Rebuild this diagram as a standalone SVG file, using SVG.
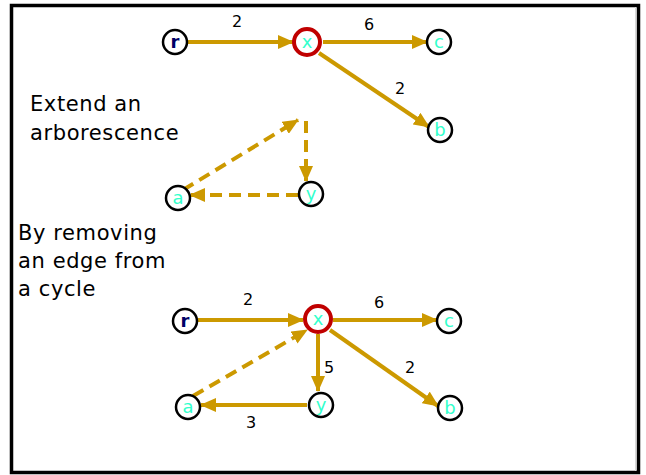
<svg xmlns="http://www.w3.org/2000/svg" width="646" height="475" viewBox="0 0 646 475">
  <style>
    .frame { fill: #ffffff; stroke: #000000; stroke-width: 3.5; }
    .node { fill: #ffffff; stroke: #000000; stroke-width: 2.5; }
    .node-hl { fill: #ffffff; stroke: #c00000; stroke-width: 4; }
    .lbl { font-family: "DejaVu Sans", sans-serif; font-size: 18px; fill: #33ffcc; text-anchor: middle; }
    .root { fill: #000066; font-weight: bold; }
    .edge { stroke: #cc9900; stroke-width: 4; fill: none; marker-end: url(#arrow); }
    .dash { stroke-dasharray: 12 7; }
    .w { font-family: "DejaVu Sans", sans-serif; font-size: 16px; fill: #000000; text-anchor: middle; }
    .note { font-family: "DejaVu Sans", sans-serif; font-size: 21px; letter-spacing: 0.6px; fill: #000000; }
  </style>
  <defs>
    <marker id="arrow" markerUnits="userSpaceOnUse" markerWidth="16" markerHeight="14" refX="15" refY="7" orient="auto">
      <path d="M0,0 L16,7 L0,14 Z" fill="#cc9900"/>
    </marker>
  </defs>

  <rect class="frame" x="11.5" y="5.5" width="627" height="467"/>
  <line x1="635.5" y1="7" x2="635.5" y2="471" stroke="#d8d8d8" stroke-width="1"/>

  <text class="note" x="30" y="111">Extend an</text>
  <text class="note" x="30" y="140">arborescence</text>
  <text class="note" x="18" y="240">By removing</text>
  <text class="note" x="18" y="268">an edge from</text>
  <text class="note" x="18" y="296">a cycle</text>

  <g id="connectors">
    <!-- upper tree -->
    <line class="edge" x1="188" y1="42" x2="293" y2="42"/>
    <line class="edge" x1="323" y1="42" x2="427" y2="42"/>
    <line class="edge" x1="319" y1="53" x2="429" y2="127"/>
    <!-- candidate edges -->
    <line class="edge dash" x1="183" y1="190" x2="298" y2="120"/>
    <line class="edge dash" x1="306" y1="121" x2="306" y2="181"/>
    <line class="edge dash" x1="298" y1="195" x2="190" y2="195"/>
    <!-- lower tree -->
    <line class="edge" x1="198" y1="320" x2="303" y2="320"/>
    <line class="edge" x1="333" y1="320" x2="437" y2="320"/>
    <line class="edge" x1="318" y1="334" x2="318" y2="391"/>
    <line class="edge" x1="330" y1="330" x2="438" y2="406"/>
    <line class="edge" x1="307" y1="405" x2="201" y2="405"/>
    <line class="edge dash" x1="193" y1="396" x2="307" y2="330"/>
  </g>

  <g id="weights">
    <text class="w" x="237" y="27">2</text>
    <text class="w" x="369" y="30">6</text>
    <text class="w" x="400" y="94">2</text>
    <text class="w" x="248" y="305">2</text>
    <text class="w" x="379" y="308">6</text>
    <text class="w" x="329" y="373">5</text>
    <text class="w" x="410" y="373">2</text>
    <text class="w" x="251" y="428">3</text>
  </g>

  <!-- upper graph nodes -->
  <g id="r1"><circle class="node" cx="175" cy="42" r="12"/><text class="lbl root" x="175" y="48">r</text></g>
  <g id="x1"><circle class="node-hl" cx="307" cy="42" r="13"/><text class="lbl" x="307" y="48">x</text></g>
  <g id="c1"><circle class="node" cx="439" cy="42" r="12"/><text class="lbl" x="439" y="48">c</text></g>
  <g id="b1"><circle class="node" cx="440" cy="130" r="12"/><text class="lbl" x="440" y="136">b</text></g>
  <g id="a1"><circle class="node" cx="178" cy="198" r="12"/><text class="lbl" x="178" y="204">a</text></g>
  <g id="y1"><circle class="node" cx="311" cy="194" r="12"/><text class="lbl" x="311" y="200">y</text></g>

  <!-- lower graph nodes -->
  <g id="r2"><circle class="node" cx="185" cy="321" r="12"/><text class="lbl root" x="185" y="327">r</text></g>
  <g id="x2"><circle class="node-hl" cx="318" cy="319" r="13"/><text class="lbl" x="318" y="325">x</text></g>
  <g id="c2"><circle class="node" cx="449" cy="321" r="12"/><text class="lbl" x="449" y="327">c</text></g>
  <g id="b2"><circle class="node" cx="450" cy="408" r="12"/><text class="lbl" x="450" y="414">b</text></g>
  <g id="a2"><circle class="node" cx="188" cy="407" r="12"/><text class="lbl" x="188" y="413">a</text></g>
  <g id="y2"><circle class="node" cx="321" cy="405" r="12"/><text class="lbl" x="321" y="411">y</text></g>
</svg>
